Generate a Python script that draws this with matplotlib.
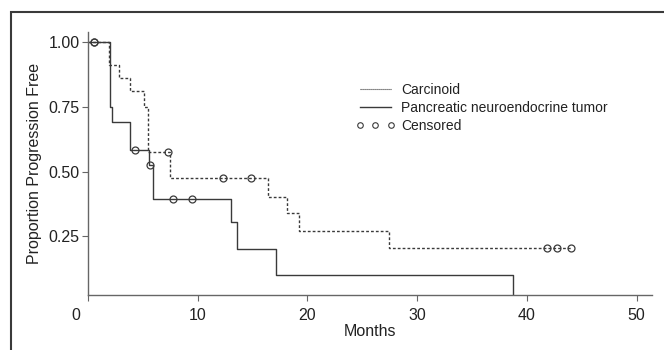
import matplotlib
matplotlib.use("Agg")
import matplotlib.pyplot as plt
import matplotlib.transforms as mtransforms
from matplotlib.lines import Line2D
from matplotlib.patches import Rectangle

plt.rcParams["font.family"] = ["Liberation Sans", "DejaVu Sans"]

# Curva Kaplan-Meier - Carcinoid
carc_meses = [0, 1.9, 2.8, 3.8, 5.08, 5.44, 7.5, 16.4, 18.1, 19.2, 27.4, 44.0]
carc_prop = [1.0, 0.911, 0.861, 0.811, 0.75, 0.575, 0.474, 0.40, 0.339, 0.270, 0.204, 0.204]
carc_cens_meses = [0.52, 7.27, 12.27, 14.83, 41.8, 42.7, 44.0]
carc_cens_prop = [1.0, 0.575, 0.474, 0.474, 0.204, 0.204, 0.204]

# Curva Kaplan-Meier - tumor neuroendócrino pancreático
pnet_meses = [0, 1.98, 2.2, 3.8, 5.55, 5.95, 13.0, 13.55, 17.1, 38.7]
pnet_prop = [1.0, 0.75, 0.69, 0.583, 0.525, 0.393, 0.304, 0.20, 0.10, 0.0]
pnet_cens_meses = [0.52, 4.26, 5.65, 7.72, 9.45]
pnet_cens_prop = [1.0, 0.583, 0.525, 0.393, 0.393]

x_ticks = [0, 10, 20, 30, 40, 50]
y_ticks = [0.25, 0.50, 0.75, 1.00]

cor = "#3a3a3a"
texto = "#222222"
fs_eixo = 11.5
fs_leg = 10

fig = plt.figure(figsize=(6.64, 3.5), dpi=100)
ax = fig.add_axes([88 / 664, 1 - 295 / 350, (652 - 88) / 664, (295 - 32) / 350])

ax.step(carc_meses, carc_prop, where="post", color=cor, lw=1, linestyle=(0, (2, 1.5)))
ax.step(pnet_meses, pnet_prop, where="post", color=cor, lw=1)
ax.plot(carc_cens_meses, carc_cens_prop, "o", ms=5, mfc="none", mec=cor, mew=0.9)
ax.plot(pnet_cens_meses, pnet_cens_prop, "o", ms=5, mfc="none", mec=cor, mew=0.9)

ax.set_xlim(0, 51.4)
ax.set_ylim(0.022, 1.04)
ax.set_xticks(x_ticks)
ax.set_xticklabels([str(t) for t in x_ticks])
ax.set_yticks(y_ticks)
ax.set_yticklabels(["%.2f" % t for t in y_ticks])
ax.tick_params(direction="out", length=4, width=0.8, colors="#666666", labelcolor=texto,
               labelsize=fs_eixo, pad=2)
ax.tick_params(axis="x", pad=5)
# o "0" aparece deslocado para a esquerda no original
lbl0 = ax.get_xticklabels()[0]
lbl0.set_transform(lbl0.get_transform() + mtransforms.ScaledTranslation(-12 / 100, 0, fig.dpi_scale_trans))

for lado in ["top", "right"]:
    ax.spines[lado].set_visible(False)
for lado in ["left", "bottom"]:
    ax.spines[lado].set_color("#666666")
    ax.spines[lado].set_linewidth(1)

ax.set_xlabel("Months", fontsize=fs_eixo, color=texto, labelpad=1)
ax.set_ylabel("Proportion Progression Free", fontsize=fs_eixo, color=texto, labelpad=5)

handles = [
    Line2D([], [], color=cor, lw=0.8, linestyle=(0, (1, 0.8))),
    Line2D([], [], color=cor, lw=1),
    Line2D([], [], color=cor, linestyle="none", marker="o", ms=4, mfc="none", mew=0.8),
]
ax.legend(handles, ["Carcinoid", "Pancreatic neuroendocrine tumor", "Censored"],
          loc="upper left", bbox_to_anchor=(356 / 664, 1 - 83 / 350), bbox_transform=fig.transFigure,
          frameon=False, numpoints=3, fontsize=fs_leg, handlelength=2.8, handletextpad=0.45,
          labelspacing=0.3, borderpad=0, borderaxespad=0, labelcolor=texto)

# moldura da figura (só topo e esquerda visíveis)
fig.patches.append(Rectangle((11 / 664, -0.5), 2, 0.5 + 1 - 12 / 350, transform=fig.transFigure,
                             fill=False, edgecolor=cor, lw=1.5))

fig.savefig("out.png", dpi=100)
